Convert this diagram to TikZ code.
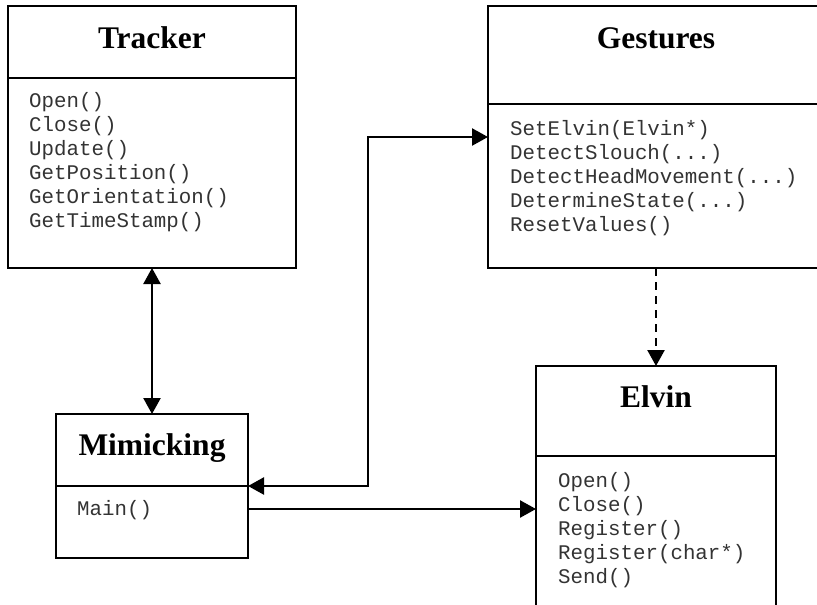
\documentclass[tikz,border=0pt]{standalone}
\usepackage{fontspec}
\setmainfont{Liberation Serif}
\newfontfamily\codefont{Liberation Mono}
\usetikzlibrary{arrows.meta}
\newcommand\argdots{...}

\begin{document}
\begin{tikzpicture}[x=1pt,y=-1pt,line width=2.4pt,
  classbox/.style={draw,rectangle,inner sep=0pt,outer sep=0pt},
  classname/.style={anchor=base,inner sep=0pt,font=\fontsize{31.5}{36}\selectfont\bfseries},
  method/.style={anchor=base west,inner sep=0pt,text=black!80,font=\fontsize{20.8}{24}\selectfont\codefont},
  tip/.style={-{Triangle[length=16pt,width=17pt]}},
  twotips/.style={{Triangle[length=16pt,width=17pt]}-{Triangle[length=16pt,width=17pt]}}]
  \useasboundingbox (0,0) rectangle (817,605);
  \clip (0,0) rectangle (817,605);

  % Tracker
  \node[classbox,minimum width=288pt,minimum height=262pt] (tracker) at (152,137) {};
  \draw (tracker.west |- 0,78) -- (tracker.east |- 0,78);
  \node[classname] (tracker-name) at (152,48) {Tracker};
  \foreach \m [count=\i] in {Open(),Close(),Update(),GetPosition(),GetOrientation(),GetTimeStamp()}
    \node[method] (tracker-m\i) at (28,107+24*\i-24) {\m};

  % Gestures (runs off to the right)
  \node[classbox,minimum width=336pt,minimum height=262pt] (gestures) at (656,137) {};
  \draw (gestures.west |- 0,104) -- (gestures.east |- 0,104);
  \node[classname] (gestures-name) at (656,48) {Gestures};
  \foreach \m [count=\i] in {SetElvin(Elvin*),DetectSlouch(\argdots),DetectHeadMovement(\argdots),DetermineState(\argdots),ResetValues()}
    \node[method] (gestures-m\i) at (509,135+24*\i-24) {\m};

  % Mimicking
  \node[classbox,minimum width=192pt,minimum height=144pt] (mimicking) at (152,486) {};
  \draw (mimicking.west |- 0,486) -- (mimicking.east |- 0,486);
  \node[classname] (mimicking-name) at (152,455) {Mimicking};
  \node[method] (mimicking-m1) at (76,515) {Main()};

  % Elvin (runs off the bottom)
  \node[classbox,minimum width=240pt,minimum height=280pt] (elvin) at (656,506) {};
  \draw (elvin.west |- 0,456) -- (elvin.east |- 0,456);
  \node[classname] (elvin-name) at (656,407) {Elvin};
  \foreach \m [count=\i] in {Open(),Close(),Register(),Register(char*),Send()}
    \node[method] (elvin-m\i) at (557,487+24*\i-24) {\m};

  % links
  \coordinate (bend) at (368,0);
  \draw[twotips] (tracker.south) -- (mimicking.north);
  \draw[twotips] (gestures.west) -- (gestures.west -| bend) |- (mimicking.east);
  \draw[tip] ([yshift=-23pt]mimicking.east) -- ([yshift=-23pt]mimicking.east -| elvin.west);
  \draw[tip,dash pattern=on 8pt off 6pt] (gestures.south) -- (elvin.north);
\end{tikzpicture}
\end{document}
